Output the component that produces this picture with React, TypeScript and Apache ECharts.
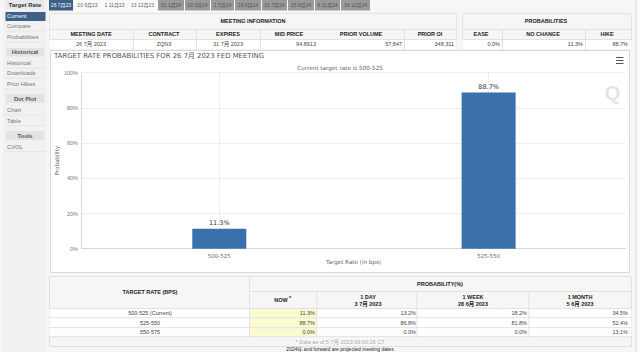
import React, { useEffect, useRef } from "react";
import * as echarts from "echarts";

const targetRates = ["500-525", "525-550"];
const probabilities = [11.3, 88.7];
const yTicks = [0, 20, 40, 60, 80, 100];

const activeTabs = ["26 7月23", "20 9月23", "1 11月23", "13 12月23"];
const greyTabs = ["31 1月24", "20 3月24", "1 5月24", "19 6月24", "31 7月24", "25 9月24", "6 11月24", "18 12月24"];
const tabEdges = [49, 74, 102, 128, 158, 185, 211, 235, 262, 288, 315, 341, 371];

const menuCurrent = ["Current", "Compare", "Probabilities"];
const menuHistorical = ["Historical", "Downloads", "Prior Hikes"];
const menuDot = ["Chart", "Table"];
const menuTools = ["CVOL"];

const meetingHeads = ["MEETING DATE", "CONTRACT", "EXPIRES", "MID PRICE", "PRIOR VOLUME", "PRIOR OI"];
const meetingValues = ["26 7月 2023", "ZQN3", "31 7月 2023", "94.8913", "57,847", "348,311"];
const probHeads = ["EASE", "NO CHANGE", "HIKE"];
const probValues = ["0.0%", "11.3%", "88.7%"];

const rowLabels = ["500-525 (Current)", "525-550", "550-575"];
const nowCol = ["11.3%", "88.7%", "0.0%"];
const dayCol = ["13.2%", "86.8%", "0.0%"];
const weekCol = ["18.2%", "81.8%", "0.0%"];
const monthCol = ["34.5%", "52.4%", "13.1%"];

const SANS = "Liberation Sans, Noto Sans CJK SC, sans-serif";
const DEJA = "DejaVu Sans, Noto Sans CJK SC, sans-serif";

function rect(x: number, y: number, w: number, h: number, fill: string, stroke?: string, z = -5) {
  return { type: "rect", z, silent: true, shape: { x, y, width: w, height: h }, style: { fill, stroke: stroke || "none", lineWidth: 1 } };
}
function hline(x1: number, x2: number, y: number, stroke = "#e2e2e2", z = -3) {
  return { type: "line", z, silent: true, shape: { x1, y1: y, x2, y2: y }, style: { stroke, lineWidth: 1 } };
}
function vline(x: number, y1: number, y2: number, stroke = "#e2e2e2", z = -3) {
  return { type: "line", z, silent: true, shape: { x1: x, y1, x2: x, y2 }, style: { stroke, lineWidth: 1 } };
}
function txt(text: string, x: number, y: number, o: any = {}) {
  return {
    type: "text",
    z: 5,
    silent: true,
    x,
    y,
    rotation: o.rotation || 0,
    style: {
      text,
      x: 0,
      y: 0,
      fill: o.color || "#444",
      font: `${o.bold ? "bold " : ""}${o.size || 5.5}px ${o.family || SANS}`,
      align: o.align || "center",
      verticalAlign: "middle",
    },
  };
}

function buildGraphics() {
  const g: any[] = [];
  // sidebar
  g.push(rect(3, 0, 44, 352, "#f1f1f1", undefined, -9));
  g.push(vline(636, 0, 352, "#d8d8d8", -8));
  g.push(rect(637, 0, 3, 352, "#fbfbfb", undefined, -9));
  g.push(rect(6, 0, 38, 9, "#e9e9e9"));
  g.push(txt("Target Rate", 25, 4.5, { bold: true, color: "#333", size: 6 }));
  g.push(rect(5.5, 12, 40, 9, "#3d5f88"));
  const sideItem = (t: string, y: number, color = "#777") => {
    g.push(txt(t, 7, y, { align: "left", color, size: 5.8 }));
    g.push(hline(5, 45, y + 5, "#e6e6e6"));
  };
  g.push(txt(menuCurrent[0], 7, 16, { align: "left", color: "#fff", size: 5.8 }));
  sideItem(menuCurrent[1], 26);
  sideItem(menuCurrent[2], 37);
  g.push(rect(6, 48, 38, 8.5, "#e3e3e3"));
  g.push(txt("Historical", 25, 52, { bold: true, color: "#555", size: 5.8 }));
  sideItem(menuHistorical[0], 63);
  sideItem(menuHistorical[1], 73);
  sideItem(menuHistorical[2], 84);
  g.push(rect(6, 94, 38, 9, "#e3e3e3"));
  g.push(txt("Dot Plot", 25, 98.5, { bold: true, color: "#555", size: 5.8 }));
  sideItem(menuDot[0], 110);
  sideItem(menuDot[1], 120.5);
  g.push(rect(6, 131, 38, 9, "#e3e3e3"));
  g.push(txt("Tools", 25, 135.5, { bold: true, color: "#555", size: 5.8 }));
  sideItem(menuTools[0], 146.5);

  // tabs
  activeTabs.concat(greyTabs).forEach((t, i) => {
    const x0 = tabEdges[i];
    const x1 = tabEdges[i + 1] - 1;
    const selected = i === 0;
    const active = i < activeTabs.length;
    g.push(rect(x0, 0, x1 - x0, 10.5, selected ? "#3d5f88" : active ? "#fafafa" : "#9a9a9a"));
    g.push(txt(t, (x0 + x1) / 2, 4.8, { size: 5, color: selected ? "#fff" : active ? "#666" : "#555" }));
  });

  // meeting information tables
  g.push(rect(49.5, 13.5, 407, 36, "#f6f6f6", "#e4e4e4"));
  g.push(rect(462.5, 13.5, 169, 36, "#f6f6f6", "#e4e4e4"));
  g.push(rect(49.5, 39.5, 407, 10, "#ffffff"));
  g.push(rect(462.5, 39.5, 169, 10, "#ffffff"));
  g.push(hline(49, 457, 29.5));
  g.push(hline(49, 457, 39.5));
  g.push(hline(462, 632, 29.5));
  g.push(hline(462, 632, 39.5));
  [133, 196, 260, 404].forEach((x) => g.push(vline(x + 0.5, 29, 50)));
  [502, 585].forEach((x) => g.push(vline(x + 0.5, 29, 50)));
  g.push(txt("MEETING INFORMATION", 253, 21, { bold: true, color: "#222", size: 5.5 }));
  g.push(txt("PROBABILITIES", 546, 21, { bold: true, color: "#222", size: 5.5 }));
  const headX = [91, 164, 228, 289, 361, 430];
  meetingHeads.forEach((t, i) => g.push(txt(t, headX[i], 34, { bold: true, color: "#222", size: 5.5 })));
  const valX = [91, 164, 228, 316, 402, 454];
  meetingValues.forEach((t, i) =>
    g.push(txt(t, valX[i], 43.5, { size: 5.5, align: i < 3 ? "center" : "right", color: "#444" }))
  );
  const probX = [481, 543, 607];
  probHeads.forEach((t, i) => g.push(txt(t, probX[i], 34, { bold: true, color: "#222", size: 5.5 })));
  const probValX = [500, 583, 628];
  probValues.forEach((t, i) => g.push(txt(t, probValX[i], 43.5, { size: 5.5, align: "right", color: "#444" })));

  // chart panel
  g.push(rect(50.5, 50.5, 579, 222, "#ffffff", "#d9d9d9", -6));
  [[57.5], [60.5], [63.5]].forEach(([y]) =>
    g.push({ type: "line", z: 5, silent: true, shape: { x1: 616, y1: y, x2: 623.5, y2: y }, style: { stroke: "#555", lineWidth: 1 } })
  );
  g.push(txt("Q", 612.5, 93, { size: 20, bold: true, color: "#e4e4e4", family: "Liberation Sans" }));
  g[g.length - 1].z = -1;

  // bottom table
  g.push(rect(49.5, 276.5, 582, 70, "#f6f6f6", "#e0e0e0"));
  g.push(rect(49.5, 308.5, 582, 28, "#ffffff"));
  g.push(rect(249.5, 308.5, 67.5, 28, "#fbfbd2", undefined, -4));
  g.push(vline(249.5, 276, 337));
  g.push(hline(250, 632, 291.5));
  [308.5, 317.7, 327.7, 336.7].forEach((y) => g.push(hline(49, 632, y)));
  [316.7, 417, 529].forEach((x) => g.push(vline(x, 292, 337)));
  g.push(txt("TARGET RATE (BPS)", 150, 292, { bold: true, color: "#222", size: 5.5 }));
  g.push(txt("PROBABILITY(%)", 440, 284, { bold: true, color: "#222", size: 5.5 }));
  g.push(txt("NOW", 281, 300, { bold: true, color: "#222", size: 5.5 }));
  g.push(txt("*", 290, 298, { bold: true, color: "#222", size: 5.5 }));
  const subHeads: [string, string, number][] = [
    ["1 DAY", "3 7月 2023", 368],
    ["1 WEEK", "28 6月 2023", 473],
    ["1 MONTH", "5 6月 2023", 580],
  ];
  subHeads.forEach(([a, b, x]) => {
    g.push(txt(a, x, 297, { bold: true, color: "#222", size: 5.5 }));
    g.push(txt(b, x, 303.5, { bold: true, color: "#222", size: 5.5 }));
  });
  const rowY = [313, 322.5, 332];
  rowLabels.forEach((t, i) => {
    g.push(txt(t, 150, rowY[i], { size: 5.5, color: "#444" }));
    g.push(txt(nowCol[i], 315, rowY[i], { size: 5.5, align: "right", color: "#444" }));
    g.push(txt(dayCol[i], 416, rowY[i], { size: 5.5, align: "right", color: "#444" }));
    g.push(txt(weekCol[i], 527, rowY[i], { size: 5.5, align: "right", color: "#444" }));
    g.push(txt(monthCol[i], 628, rowY[i], { size: 5.5, align: "right", color: "#444" }));
  });
  g.push(txt("* Data as of 5 7月 2023 09:00:26 CT", 340, 341.5, { size: 5.5, color: "#aaa" }));
  g.push(txt("2024年 and forward are projected meeting dates", 340, 349.2, { size: 5, color: "#222" }));
  return g;
}

export default function App() {
  const ref = useRef<HTMLDivElement>(null);
  useEffect(() => {
    document.body.style.margin = "0";
    const chart = echarts.init(ref.current!, undefined, { renderer: "svg" });
    const labelStyle = { fontFamily: "DejaVu Sans", fontSize: 5.5, color: "#666" };
    chart.setOption({
      animation: false,
      backgroundColor: "#f6f6f6",
      textStyle: { fontFamily: "DejaVu Sans" },
      title: [
        {
          text: "TARGET RATE PROBABILITIES FOR 26 7月 2023 FED MEETING",
          left: 54,
          top: 53,
          padding: 0,
          textStyle: { fontFamily: DEJA, fontSize: 6.9, fontWeight: "normal", color: "#555" },
        },
        {
          text: "Current target rate is 500-525",
          left: 340,
          top: 65,
          padding: 0,
          textAlign: "center",
          textStyle: { fontFamily: DEJA, fontSize: 5.7, fontWeight: "normal", color: "#666" },
        },
      ],
      grid: [
        { left: 84.6, width: 538.7, top: 72.7, height: 176, containLabel: false },
        { left: 81.5, width: 544, top: 72.7, height: 176, containLabel: false },
      ],
      xAxis: [
        {
          gridIndex: 0,
          type: "category",
          data: targetRates,
          axisLine: { show: false },
          axisTick: { show: false },
          axisLabel: { ...labelStyle, margin: 4 },
          splitLine: { show: true, alignWithLabel: true, lineStyle: { color: "#eeeeee", width: 1 } },
        },
        {
          gridIndex: 1,
          type: "value",
          min: 0,
          max: 1,
          axisLabel: { show: false },
          axisTick: { show: false },
          axisLine: { show: true, lineStyle: { color: "#d8d8d8" } },
          splitLine: { show: false },
          name: "Target Rate (in bps)",
          nameLocation: "middle",
          nameGap: 10.5,
          nameTextStyle: { fontFamily: "DejaVu Sans", fontSize: 5.6, color: "#666" },
        },
      ],
      yAxis: [
        { gridIndex: 0, type: "value", min: 0, max: yTicks[yTicks.length - 1], interval: 20, show: false },
        {
          gridIndex: 1,
          type: "value",
          min: 0,
          max: yTicks[yTicks.length - 1],
          interval: 20,
          axisTick: { show: false },
          axisLine: { show: true, lineStyle: { color: "#d8d8d8" } },
          axisLabel: { fontFamily: "Liberation Sans", fontSize: 5.5, color: "#777", margin: 3.5, formatter: "{value}%" },
          splitLine: { show: true, lineStyle: { color: "#eeeeee", width: 1 } },
          name: "Probability",
          nameLocation: "middle",
          nameGap: 22,
          nameMoveOverlap: false,
          nameTextStyle: { fontFamily: "DejaVu Sans", fontSize: 5.6, color: "#666" },
        },
      ],
      series: [
        {
          type: "bar",
          xAxisIndex: 0,
          yAxisIndex: 0,
          data: probabilities,
          barWidth: 54,
          itemStyle: { color: "#3a71ab" },
          label: {
            show: true,
            position: "top",
            distance: 2.5,
            fontFamily: "DejaVu Sans",
            fontSize: 6.5,
            color: "#333",
            formatter: "{c}%",
          },
        },
      ],
      graphic: { elements: buildGraphics() },
    });
    return () => chart.dispose();
  }, []);
  return <div ref={ref} style={{ position: "fixed", left: 0, top: 0, width: 640, height: 352 }} />;
}
